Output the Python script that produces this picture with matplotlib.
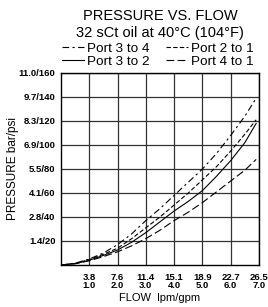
import matplotlib
matplotlib.use("Agg")
import matplotlib.pyplot as plt

plt.rcParams['font.family'] = ['Liberation Sans', 'DejaVu Sans']

flow_gpm = [0, 0.5, 1, 1.5, 2, 2.5, 3, 3.5, 4, 4.5, 5, 5.5, 6, 6.5, 6.9]
port_3_to_4 = [0, 1.5, 5, 10, 17, 26, 37, 47, 58, 69, 80, 93, 108, 124, 139]
port_2_to_1 = [0, 1.3, 4.5, 9, 14, 22, 31, 40, 50, 60, 71, 82, 95, 109, 121]
port_3_to_2 = [0, 1.2, 4, 8, 12.5, 19, 27, 36, 45, 53, 62, 74, 87, 102, 118]
port_4_to_1 = [0, 1.0, 3.5, 7, 11, 16, 22, 29, 37, 44, 52, 61, 70, 79, 88]

x_ticks = [1, 2, 3, 4, 5, 6, 7]
x_labels = ["3.8\n1.0", "7.6\n2.0", "11.4\n3.0", "15.1\n4.0", "18.9\n5.0", "22.7\n6.0", "26.5\n7.0"]
y_ticks = [20, 40, 60, 80, 100, 120, 140, 160]
y_labels = ["1.4/20", "2.8/40", "4.1/60", "5.5/80", "6.9/100", "8.3/120", "9.7/140", "11.0/160"]

fig = plt.figure(figsize=(2.68, 3.07), dpi=100)
ax = fig.add_axes([61/268, 1-265/307, 198/268, 192/307])

l1, = ax.plot(flow_gpm, port_3_to_4, color='black', lw=0.8, ls=(0, (6, 3, 2, 3)), label='Port 3 to 4')
l3, = ax.plot(flow_gpm, port_3_to_2, color='black', lw=0.8, ls='-', label='Port 3 to 2')
l2, = ax.plot(flow_gpm, port_2_to_1, color='black', lw=0.8, ls=(0, (4, 2)), label='Port 2 to 1')
l4, = ax.plot(flow_gpm, port_4_to_1, color='black', lw=0.8, ls=(0, (7, 3)), label='Port 4 to 1')

ax.set_xlim(0, 7)
ax.set_ylim(0, 160)
ax.set_xticks(x_ticks)
ax.set_xticklabels(x_labels, fontsize=6.8, fontweight='bold', linespacing=0.85)
ax.set_yticks(y_ticks)
ax.set_yticklabels(y_labels, fontsize=6.8, fontweight='bold')
ax.tick_params(axis='y', length=0, pad=4)
ax.tick_params(axis='x', length=0, pad=6)
ax.grid(True, color='#333333', lw=0.9)
for s in ax.spines.values():
    s.set_linewidth(1.0)
    s.set_color('black')

ax.set_xlabel('FLOW  lpm/gpm', fontsize=8)
ax.xaxis.set_label_coords(0.5, -(298-265)/192, transform=ax.transAxes)
ax.set_ylabel('PRESSURE bar/psi', fontsize=8.5)
ax.yaxis.set_label_coords(-(61-13.5)/198, 0.5, transform=ax.transAxes)
ax.xaxis.label.set_va('center')
ax.yaxis.label.set_va('center')

fig.text(160/268, 1-16/307, 'PRESSURE VS. FLOW', ha='center', va='center', fontsize=10.5)
fig.text(160/268, 1-33/307, '32 sCt oil at 40°C (104°F)', ha='center', va='center', fontsize=10.5)

fig.legend(handles=[l1, l3, l2, l4], ncol=2, loc='center', bbox_to_anchor=(158/268, 1-55/307),
           frameon=False, fontsize=9.7, handlelength=1.6, handletextpad=0.25, columnspacing=1.2,
           labelspacing=0.05, borderpad=0)

fig.savefig('out.png', dpi=100)
